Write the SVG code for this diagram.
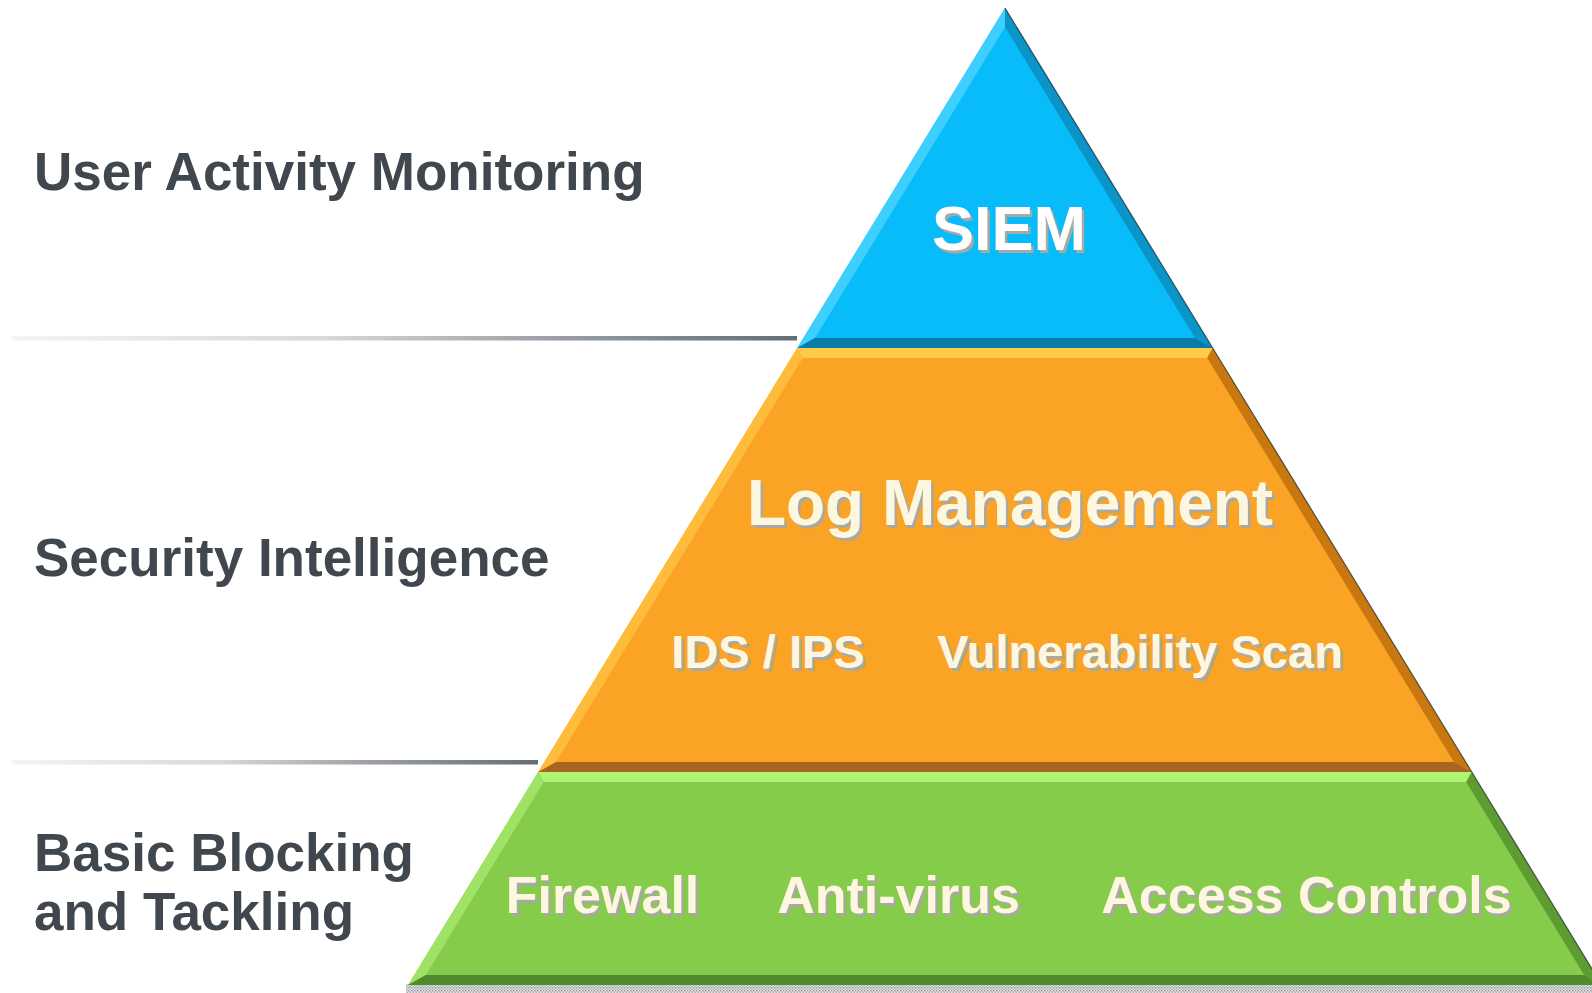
<svg xmlns="http://www.w3.org/2000/svg" width="1592" height="993" viewBox="0 0 1592 993">
<defs>
<linearGradient id="sep" x1="0" y1="0" x2="1" y2="0">
<stop offset="0" stop-color="#f4f4f4"/>
<stop offset="0.4" stop-color="#d6d8da"/>
<stop offset="0.7" stop-color="#979da3"/>
<stop offset="1" stop-color="#646d75"/>
</linearGradient>
<pattern id="dots" width="3" height="3" patternUnits="userSpaceOnUse">
<rect width="3" height="3" fill="#e6e6e6"/>
<rect width="1.5" height="1.5" fill="#9a9a9a"/>
<rect x="1.5" y="1.5" width="1.5" height="1.5" fill="#b0b0b0"/>
</pattern>
</defs>
<style>
.lbl{font-family:"Liberation Sans",Arial,sans-serif;font-weight:bold;font-size:53px;fill:#41474e}
.in{font-family:"Liberation Sans",Arial,sans-serif;font-weight:bold;fill:#fdf7df;text-anchor:middle}
.sh{font-family:"Liberation Sans",Arial,sans-serif;font-weight:bold;fill:#a9a8a2;text-anchor:middle}
.edge{fill:none;stroke:#1d2a30;stroke-width:1.2;stroke-opacity:0.7}
</style>
<rect width="1592" height="993" fill="#ffffff"/>

<g id="separators">
<rect x="12" y="336" width="785" height="4.5" fill="url(#sep)"/>
<rect x="12" y="760" width="526" height="4.5" fill="url(#sep)"/>
</g>

<g id="labels">
<text class="lbl" x="34" y="190">User Activity Monitoring</text>
<text class="lbl" x="34" y="576">Security Intelligence</text>
<text class="lbl" x="34" y="871">Basic Blocking</text>
<text class="lbl" x="34" y="930">and Tackling</text>
</g>

<g id="shadow-base">
<rect x="406" y="984" width="1186" height="9" fill="url(#dots)"/>
</g>

<g id="tier-siem">
<polygon points="1005,8 797.3,348 1212.7,348" fill="#08bbf9"/>
<polygon points="1005,8 797.3,348 815,338 1005,27" fill="#3fcfff"/>
<polygon points="1005,8 1005,27 1195,338 1212.7,348" fill="#0a94c8"/>
<polygon points="797.3,348 1212.7,348 1195,338 815,338" fill="#0a7aa6"/>
<polyline class="edge" points="1005,8 1212.7,348"/>
<text class="sh" x="1011.5" y="252.5" font-size="63">SIEM</text>
<text class="in" x="1009" y="250" font-size="63" style="fill:#ffffff">SIEM</text>
</g>

<g id="tier-log">
<polygon points="797.3,348 1212.7,348 1471.8,772 538.2,772" fill="#fba325"/>
<polygon points="797.3,348 1212.7,348 1207.2,358 802.8,358" fill="#ffcb48"/>
<polygon points="797.3,348 802.8,358 556,762 538.2,772" fill="#ffbb3c"/>
<polygon points="1212.7,348 1471.8,772 1454,762 1207.2,358" fill="#c9780f"/>
<polygon points="538.2,772 1471.8,772 1454,762 556,762" fill="#a8651f"/>
<polyline class="edge" points="1212.7,348 1471.8,772"/>
<text class="sh" x="1012.5" y="527.5" font-size="64">Log Management</text>
<text class="in" x="1010" y="525" font-size="64">Log Management</text>
<text class="sh" x="770.5" y="670.5" font-size="47">IDS / IPS</text>
<text class="in" x="768" y="668" font-size="47">IDS / IPS</text>
<text class="sh" x="1142.5" y="670.5" font-size="47">Vulnerability Scan</text>
<text class="in" x="1140" y="668" font-size="47">Vulnerability Scan</text>
</g>

<g id="tier-basic">
<polygon points="538.2,772 1471.8,772 1601.9,985 408.1,985" fill="#84cc4a"/>
<polygon points="538.2,772 1471.8,772 1466.2,782 543.8,782" fill="#aef574"/>
<polygon points="538.2,772 543.8,782 425.9,975 408.1,985" fill="#9fe266"/>
<polygon points="1471.8,772 1601.9,985 1584.1,975 1466.2,782" fill="#5e9c32"/>
<polygon points="408.1,985 1601.9,985 1584.1,975 425.9,975" fill="#4f8a2c"/>
<polyline class="edge" points="1471.8,772 1601.9,985"/>
<text class="sh" x="605" y="915.5" font-size="52">Firewall</text>
<text class="in" x="602.5" y="913" font-size="52">Firewall</text>
<text class="sh" x="901" y="915.5" font-size="52">Anti-virus</text>
<text class="in" x="898.5" y="913" font-size="52">Anti-virus</text>
<text class="sh" x="1309" y="915.5" font-size="52">Access Controls</text>
<text class="in" x="1306.5" y="913" font-size="52">Access Controls</text>
</g>
</svg>
